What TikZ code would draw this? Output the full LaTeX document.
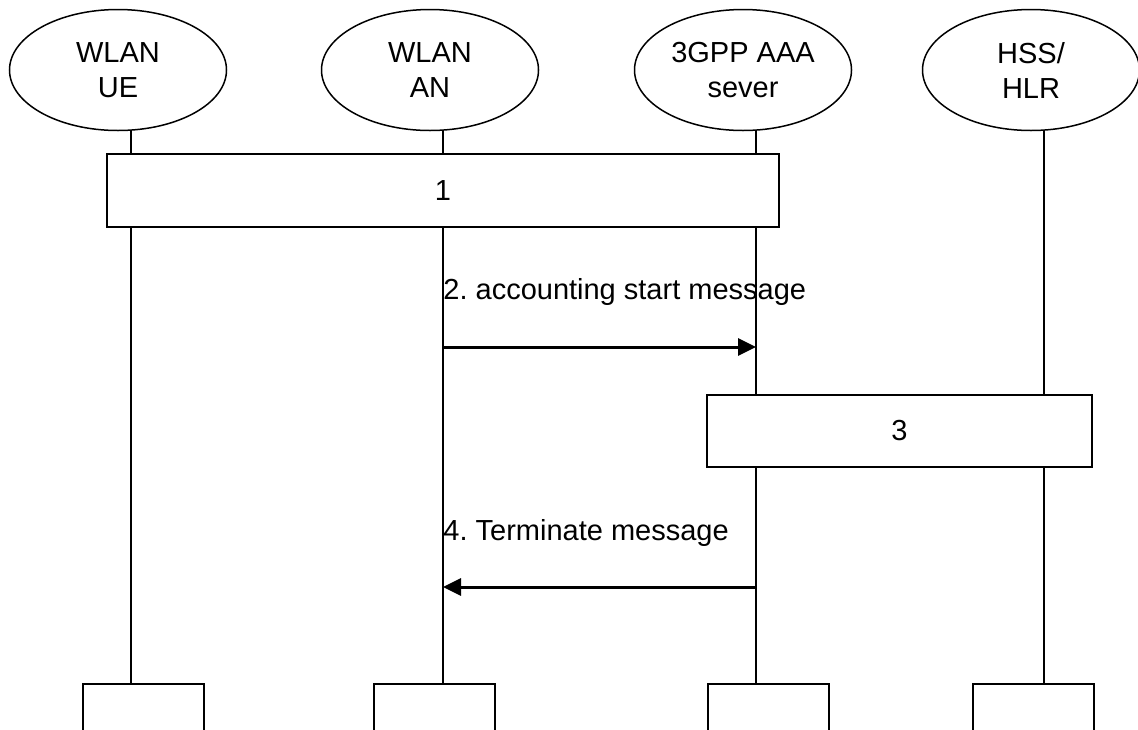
\documentclass[tikz,border=0pt]{standalone}
\usepackage{fontspec}
\setmainfont{Liberation Sans}
\usetikzlibrary{shapes.geometric,arrows.meta}
\frenchspacing
\tikzset{
  entity/.style={ellipse, draw, line width=0.75pt, minimum width=108.5pt, minimum height=60.5pt, inner sep=0pt, align=center, font=\fontsize{14.5}{17.5}\selectfont},
  procbox/.style={rectangle, draw, fill=white, line width=1pt, inner sep=0pt, font=\fontsize{14.5}{17.5}\selectfont},
  stub/.style={rectangle, draw, line width=1pt, minimum width=60.5pt, minimum height=40pt, anchor=north west, inner sep=0pt},
  lifeline/.style={line width=1pt},
  msg/.style={line width=1.5pt, -{Triangle[length=9pt,width=8.5pt]}},
  msglabel/.style={anchor=west, inner sep=0pt, font=\fontsize{14.5}{17.5}\selectfont}
}
\begin{document}
\begin{tikzpicture}[x=0.5pt,y=-0.5pt]
\useasboundingbox (0,0) rectangle (1138,729);
\clip (0,0) rectangle (1138,729);
% entities
\node[entity] (ue) at (118,70) {WLAN\\UE};
\node[entity] (an) at (430,70) {WLAN\\AN};
\node[entity] (aaa) at (743,70) {3GPP AAA\\sever};
\node[entity] (hss) at (1031,70) {HSS/\\HLR};
% stubs at the bottom
\node[stub] (ueEnd) at (82,683) {};
\node[stub] (anEnd) at (373,683) {};
\node[stub] (aaaEnd) at (707,683) {};
\node[stub] (hssEnd) at (972,683) {};
% lifelines
\foreach \n in {ue,an,aaa,hss} {
  \coordinate (\n Top) at ([xshift=6.5pt]\n.south);
  \draw[lifeline] (\n Top) -- (\n Top |- \n End.north);
}
% procedures
\node[procbox, minimum width=336pt, minimum height=36.5pt] (p1) at (443,190.5) {1};
\node[procbox, minimum width=192.5pt, minimum height=36pt] (p3) at (899.5,431) {3};
% messages
\node[msglabel] (m2) at (anTop |- 0,292) {2. accounting start message};
\draw[msg] (anTop |- 0,347) -- (aaaTop |- 0,347);
\node[msglabel] (m4) at (anTop |- 0,533) {4. Terminate message};
\draw[msg] (aaaTop |- 0,587) -- (anTop |- 0,587);
\end{tikzpicture}
\end{document}
